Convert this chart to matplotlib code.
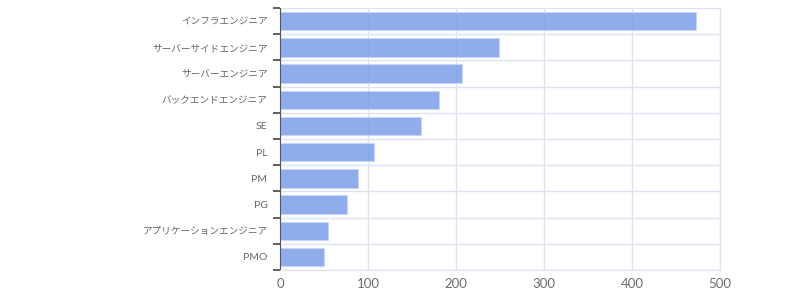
import matplotlib
matplotlib.use("Agg")
import matplotlib.pyplot as plt
import numpy as np

# data
categories = ["インフラエンジニア", "サーバーサイドエンジニア", "サーバーエンジニア",
              "バックエンドエンジニア", "SE", "PL", "PM", "PG",
              "アプリケーションエンジニア", "PMO"]
counts = [473, 249, 207, 181, 160, 107, 89, 76, 55, 50]
x_ticks = [0, 100, 200, 300, 400, 500]

plt.rcParams['font.family'] = ['Lato', 'Noto Sans CJK JP', 'DejaVu Sans']

fig = plt.figure(figsize=(8, 3), dpi=100)
ax = fig.add_axes([0.35, 0.1, 0.55, 0.873])

y = np.arange(len(categories))
ax.barh(y, counts, height=0.7, color="#7b9fe9", alpha=0.85,
        edgecolor="#c9d7f5", linewidth=0.8, zorder=2)

ax.set_xlim(0, 500)
ax.set_ylim(len(categories) - 0.5, -0.5)

ax.set_xticks(x_ticks)
ax.set_yticks(y)
ax.set_yticklabels(categories)
ax.set_yticks(np.arange(len(categories) + 1) - 0.5, minor=True)

ax.tick_params(axis="y", which="major", length=0, pad=9, labelcolor="#666666")
ax.tick_params(axis="y", which="minor", left=True, length=5, width=1.2, color="#444444")
ax.tick_params(axis="x", length=0, pad=6, labelsize=9.5, labelcolor="#6e6e6e")

# latin labels a bit bigger than the japanese ones
for lbl in ax.get_yticklabels():
    lbl.set_fontsize(7.5 if lbl.get_text().isascii() else 6.9)

ax.grid(axis="x", which="major", color="#dde3f0", linewidth=1, zorder=0)
ax.grid(axis="y", which="minor", color="#dde3f0", linewidth=1, zorder=0)

for s in ["top", "right", "bottom"]:
    ax.spines[s].set_color("#dde3f0")
ax.spines["top"].set_visible(False)
ax.spines["left"].set_color("#555555")

plt.savefig("out.png", dpi=100)
